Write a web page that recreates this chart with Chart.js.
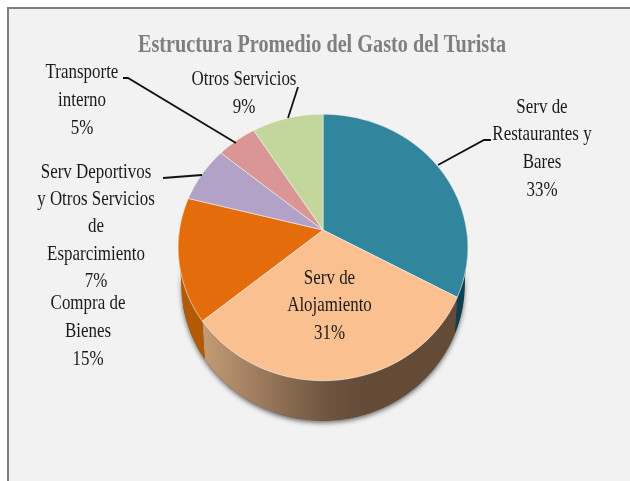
<!DOCTYPE html>
<html>
<head>
<meta charset="utf-8">
<title>Estructura Promedio del Gasto del Turista</title>
<script src="https://cdn.jsdelivr.net/npm/chart.js@4"></script>
<style>
    html, body { margin: 0; padding: 0; background: #fff; }
    canvas { display: block; }
</style>
</head>
<body>
<canvas id="gastoChart" width="630" height="481"></canvas>
<script>
// Donnees
const titleText = 'Estructura Promedio del Gasto del Turista';
const categories = ['Serv de Restaurantes y Bares', 'Serv de Alojamiento', 'Compra de Bienes',
    'Serv Deportivos y Otros Servicios de Esparcimiento', 'Transporte interno', 'Otros Servicios'];
const values = [33, 31, 15, 7, 5, 9];

// Couleurs
const sliceColors = ['#31859c', '#fac090', '#e46c0a', '#b3a2c7', '#d99694', '#c3d69b'];
const sideColors = ['#0e3e52', null, '#b35a05', '#6b5a80', '#8a5a58', '#7c8a5c'];

// Mise en page des etiquettes : une ligne de texte par entree, le % est ajoute a la fin
const labelLayout = [
    { x: 542, y: 107, step: 27.7, lines: ['Serv de', 'Restaurantes y', 'Bares'] },
    { x: 329.5, y: 278, step: 27.7, lines: ['Serv de', 'Alojamiento'] },
    { x: 88, y: 303, step: 28, lines: ['Compra de', 'Bienes'] },
    { x: 96, y: 172, step: 27.3, lines: ['Serv Deportivos', 'y Otros Servicios', 'de', 'Esparcimiento'] },
    { x: 82, y: 72, step: 28, lines: ['Transporte', 'interno'] },
    { x: 244, y: 79, step: 28, lines: ['Otros Servicios'] }
];
const leaderLines = [
    [[438, 165], [484, 140], [491, 140]],
    [[288, 118], [298, 87]],
    [[236, 143], [128, 78], [123, 78]],
    [[202, 175], [163, 178]]
];

// Perspective de la tarte 3D
const tilt = 0.131;
const squashX = 0.992;
const squashY = 0.905;
const sideDepth = 40;
const rimShrink = 0.98;

function drawText(ctx, text, x, y, font, color, stretch) {
    ctx.save();
    ctx.font = font;
    ctx.fillStyle = color;
    ctx.textAlign = 'center';
    ctx.textBaseline = 'middle';
    ctx.translate(x, y);
    ctx.scale(stretch, 1);
    ctx.fillText(text, 0, 0);
    ctx.restore();
}

// Point du bord de la tarte pour un angle de Chart.js
function project(cx, cy, r, a) {
    const u = Math.cos(a), v = Math.sin(a);
    const d = 1 - tilt * v;
    return { x: cx + squashX * r * u / d, y: cy + squashY * r * v / d, v: v };
}

function slicePath(ctx, cx, cy, r, a0, a1) {
    const n = 60;
    ctx.beginPath();
    ctx.moveTo(cx, cy);
    for (let i = 0; i <= n; i++) {
        const p = project(cx, cy, r, a0 + (a1 - a0) * i / n);
        ctx.lineTo(p.x, p.y);
    }
    ctx.closePath();
}

function sidePath(ctx, cx, cy, r, a0, a1) {
    const n = 60;
    ctx.beginPath();
    for (let i = 0; i <= n; i++) {
        const p = project(cx, cy, r, a0 + (a1 - a0) * i / n);
        if (i === 0) ctx.moveTo(p.x, p.y); else ctx.lineTo(p.x, p.y);
    }
    for (let i = n; i >= 0; i--) {
        const p = project(cx, cy, r, a0 + (a1 - a0) * i / n);
        const depth = sideDepth * (0.86 + 0.14 * p.v);
        ctx.lineTo(cx + rimShrink * (p.x - cx), p.y + depth);
    }
    ctx.closePath();
}

// Fond, bordure et titre
const panelPlugin = {
    id: 'panel',
    beforeDraw(chart) {
        const ctx = chart.ctx;
        ctx.save();
        ctx.fillStyle = '#f2f2f2';
        ctx.fillRect(8, 8, chart.width - 8, chart.height - 8);
        ctx.fillStyle = '#7f7f7f';
        ctx.fillRect(7, 7, chart.width - 7, 2);
        ctx.fillRect(7, 7, 2, chart.height - 7);
        ctx.restore();
        drawText(ctx, titleText, 322, 45, 'bold 26px "Liberation Serif"', '#7f7f7f', 0.778);
    }
};

// Tarte en perspective avec son flanc, a partir des arcs calcules par Chart.js
const pie3dPlugin = {
    id: 'pie3d',
    beforeDatasetDraw(chart, args) {
        const ctx = chart.ctx;
        const arcs = chart.getDatasetMeta(args.index).data;
        const cx = arcs[0].x, cy = arcs[0].y, r = arcs[0].outerRadius;

        // ombre sous le flanc, seulement sur le bas
        ctx.save();
        ctx.shadowColor = 'rgba(0,0,0,0.6)';
        ctx.shadowBlur = 5;
        ctx.shadowOffsetY = 2;
        ctx.fillStyle = '#644b38';
        sidePath(ctx, cx, cy, r, 0.3, Math.PI - 0.3);
        ctx.fill();
        ctx.restore();

        // flanc de chaque part
        arcs.forEach((arc, i) => {
            const a0 = Math.max(arc.startAngle, 0);
            const a1 = Math.min(arc.endAngle, Math.PI);
            if (a1 <= a0) return;
            let fill = sideColors[i];
            if (!fill) {
                const grad = ctx.createLinearGradient(cx - 0.82 * r, 0, cx + 0.3 * r, 0);
                grad.addColorStop(0, '#c39a75');
                grad.addColorStop(0.75, '#6f5541');
                grad.addColorStop(1, '#644b38');
                fill = grad;
            }
            ctx.fillStyle = fill;
            sidePath(ctx, cx, cy, r, a0, a1);
            ctx.fill();
        });

        // dessus
        arcs.forEach(arc => {
            slicePath(ctx, cx, cy, r, arc.startAngle, arc.endAngle);
            ctx.fillStyle = arc.options.backgroundColor;
            ctx.fill();
            ctx.strokeStyle = arc.options.borderColor;
            ctx.lineWidth = arc.options.borderWidth;
            ctx.stroke();
        });
        return false;
    },
    afterDatasetsDraw(chart) {
        const ctx = chart.ctx;
        ctx.save();
        ctx.strokeStyle = '#111';
        ctx.lineWidth = 1.8;
        leaderLines.forEach(pts => {
            ctx.beginPath();
            pts.forEach((p, i) => i === 0 ? ctx.moveTo(p[0], p[1]) : ctx.lineTo(p[0], p[1]));
            ctx.stroke();
        });
        ctx.restore();

        labelLayout.forEach((lab, i) => {
            const lines = lab.lines.concat(values[i] + '%');
            lines.forEach((line, j) => {
                drawText(ctx, line, lab.x, lab.y + j * lab.step, '22px "Liberation Serif"', '#1a1a1a', 0.77);
            });
        });
    }
};

function createChart() {
    const ctx = document.getElementById('gastoChart').getContext('2d');
    new Chart(ctx, {
        type: 'pie',
        data: {
            labels: categories,
            datasets: [{
                data: values,
                backgroundColor: sliceColors,
                borderColor: '#f2f2f2',
                borderWidth: 0.6
            }]
        },
        options: {
            responsive: false,
            animation: false,
            layout: { padding: { left: 178, right: 162, top: 85, bottom: 106 } },
            plugins: {
                legend: { display: false },
                tooltip: { enabled: false }
            }
        },
        plugins: [panelPlugin, pie3dPlugin]
    });
}

createChart();
</script>
</body>
</html>
